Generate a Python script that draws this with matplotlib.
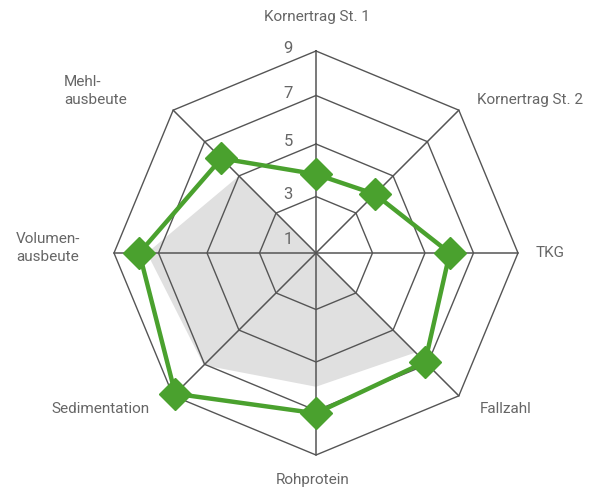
import numpy as np
import matplotlib
matplotlib.use("Agg")
import matplotlib.pyplot as plt

categories = ["Kornertrag St. 1", "Kornertrag St. 2", "TKG", "Fallzahl",
              "Rohprotein", "Sedimentation", "Volumen-\nausbeute", "Mehl-\nausbeute"]
green_values = [3.83, 4.0, 6.0, 6.86, 7.12, 8.86, 7.84, 6.0]
gray_values = [1.0, 1.0, 1.0, 6.29, 6.0, 7.05, 7.5, 5.0]
ring_values = [1, 3, 5, 7, 9]
ring_labels = ["1", "3", "5", "7", "9"]

GREEN = "#4aa12e"
GRAY_FILL = "#e0e0e0"
GRID = "#555555"
TEXT = "#666666"
FONT = ["Roboto", "DejaVu Sans"]


def rad(v):
    u = np.asarray(v, dtype=float) - 1.0
    return (29.25 * u - 0.5 * u ** 2) / 202.0


n = len(categories)
ang = np.pi / 2 - np.arange(n) * 2 * np.pi / n


def xy(vals):
    r = rad(vals)
    return r * np.cos(ang), r * np.sin(ang)


W, H = 601, 491
cx, cy = 316, 253
S = 202.0
fig = plt.figure(figsize=(W / 100, H / 100), dpi=100)
ax = fig.add_axes([0, 0, 1, 1])
ax.set_xlim(-cx / S, (W - cx) / S)
ax.set_ylim(-(H - cy) / S, cy / S)
ax.axis("off")

# gray filled series
gx, gy = xy(gray_values)
ax.fill(gx, gy, color=GRAY_FILL, lw=0, zorder=1)

# octagon grid
for v in ring_values[1:]:
    r = rad(v)
    px = np.append(r * np.cos(ang), r * np.cos(ang[0]))
    py = np.append(r * np.sin(ang), r * np.sin(ang[0]))
    ax.plot(px, py, color=GRID, lw=1.0, zorder=2)
rmax = rad(ring_values[-1])
for a in ang:
    ax.plot([0, rmax * np.cos(a)], [0, rmax * np.sin(a)], color=GRID, lw=1.1, zorder=2)

# ring labels
for v, lab in zip(ring_values, ring_labels):
    r = max(rad(v), 11 / S)
    ax.text(-23 / S, r + 2 / S, lab, ha="right", va="center", fontsize=12,
            color=TEXT, family=FONT, fontweight="normal", zorder=3)

# green series
x, y = xy(green_values)
ax.plot(np.append(x, x[0]), np.append(y, y[0]), color=GREEN, lw=3.2,
        zorder=4, solid_joinstyle="miter")
ax.plot(x, y, ls="none", marker="D", markersize=16, color=GREEN, mec=GREEN, zorder=5)

# category labels (pixel positions converted to data units)
label_pos = [
    (317, 17, "center"),
    (477, 100, "left"),
    (536, 253, "left"),
    (480, 409, "left"),
    (313, 480, "center"),
    (150, 409, "right"),
    (16, 248, "left"),
    (64, 91, "left"),
]
for cat, (px, py, ha) in zip(categories, label_pos):
    ax.text((px - cx) / S, (cy - py) / S, cat, ha=ha, va="center", fontsize=11,
            color=TEXT, family=FONT, fontweight="normal", linespacing=1.45,
            multialignment="left")

fig.savefig("out.png", dpi=100, facecolor="white")
